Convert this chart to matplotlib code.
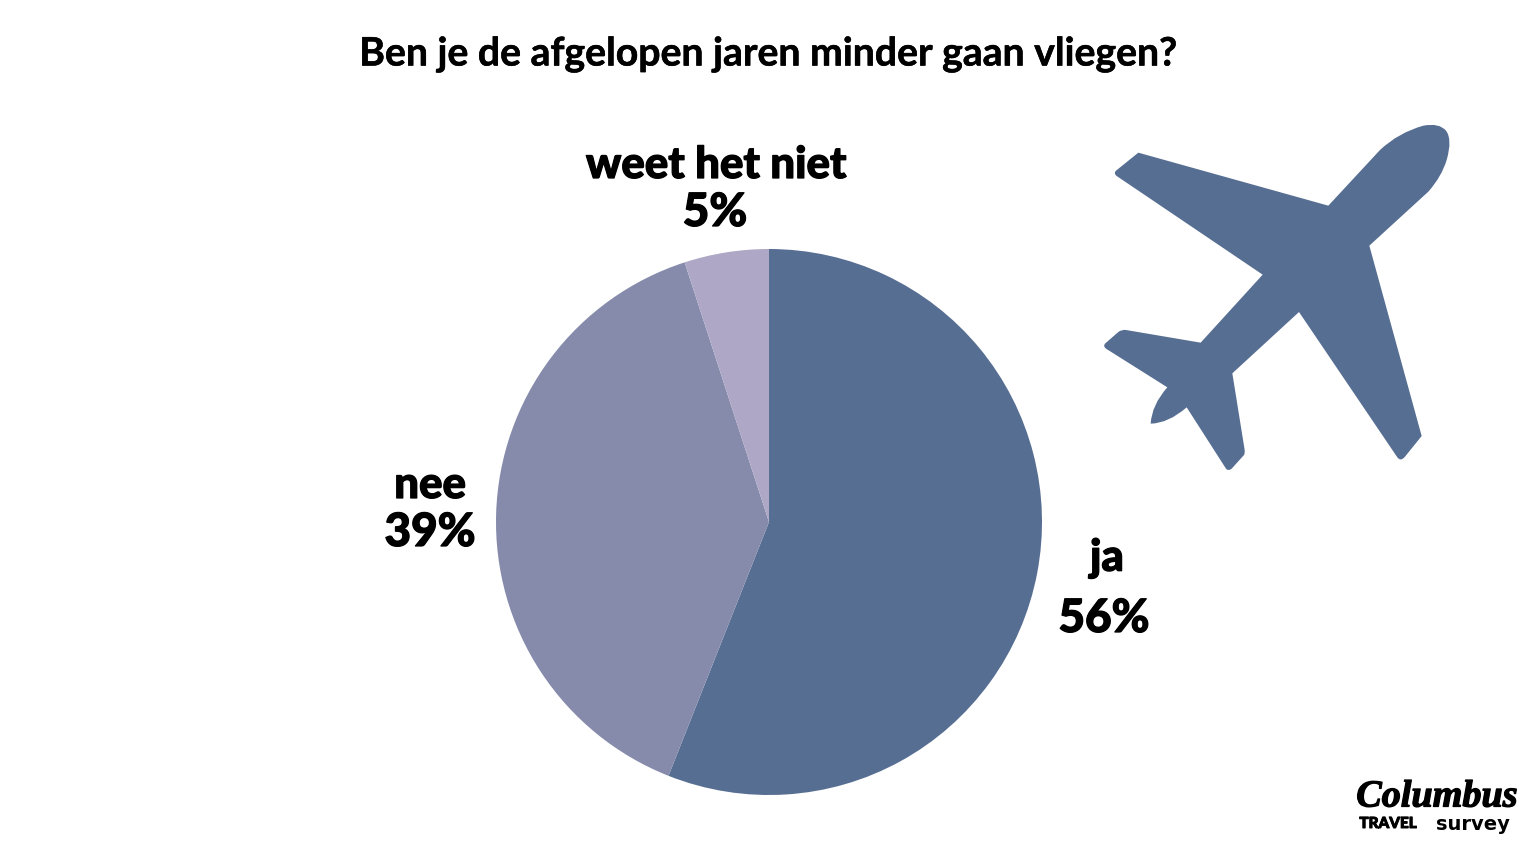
#!/usr/bin/env python3
import matplotlib
matplotlib.use('Agg')
import matplotlib.pyplot as plt
import matplotlib.patheffects as pe
from matplotlib.patches import PathPatch
from matplotlib.path import Path

# Survey results
answers = ['ja', 'nee', 'weet het niet']
percentages = [56, 39, 5]
slice_colors = ['#576e93', '#868bac', '#aea8c6']

title = 'Ben je de afgelopen jaren minder gaan vliegen?'
W, H = 1536, 864

plt.rcParams['font.family'] = ['Lato', 'DejaVu Sans']

fig = plt.figure(figsize=(W / 100, H / 100), dpi=100, facecolor='white')

# Pie, placed on its pixel box
cx, cy, r = 769, 522, 273
ax = fig.add_axes([(cx - r) / W, 1 - (cy + r) / H, 2 * r / W, 2 * r / H])
ax.pie(percentages, colors=slice_colors, startangle=90, counterclock=False, radius=1)
ax.set_xlim(-1, 1)
ax.set_ylim(-1, 1)

# Overlay in image pixels for texts and the plane
ov = fig.add_axes([0, 0, 1, 1], zorder=5)
ov.set_xlim(0, W)
ov.set_ylim(H, 0)
ov.axis('off')


def heavy(width):
    # thickens the bold faces a bit, the reference font is heavier
    return [pe.withStroke(linewidth=width, foreground='black')]


ov.text(768, 54, title, fontsize=28.2, fontweight='bold', ha='center', va='center', color='black',
        path_effects=heavy(0.4))

label_pos = {'ja': [(1107, 558), (1104, 619)],
             'nee': [(430, 485), (430, 533)],
             'weet het niet': [(716, 165), (715, 213)]}
for name, pct in zip(answers, percentages):
    (x1, y1), (x2, y2) = label_pos[name]
    ov.text(x1, y1, name, fontsize=31.5, fontweight='black', ha='center', va='center', color='black',
            path_effects=heavy(0.9))
    ov.text(x2, y2, f'{pct}%', fontsize=33, fontweight='black', ha='center', va='center', color='black',
            path_effects=heavy(0.9))

# Plane outline, traced from the 3x zoom
M, L, C = Path.MOVETO, Path.LINETO, Path.CURVE3
plane = [
    (M, 715, 287), (L, 870, 120), (C, 925, 68), (C, 1000, 47), (C, 1048, 38), (C, 1068, 62),
    (C, 1088, 88), (C, 1070, 150), (C, 1055, 200), (C, 1015, 245), (L, 838, 407), (L, 995, 978),
    (L, 945, 1040), (C, 932, 1056), (C, 922, 1042), (L, 627, 606), (L, 427, 790), (L, 464, 1020),
    (C, 465, 1030), (C, 462, 1035), (L, 425, 1076), (C, 415, 1084), (C, 408, 1076), (L, 290, 892),
    (C, 235, 940), (C, 182, 941), (C, 185, 885), (C, 232, 832), (L, 48, 716), (C, 38, 708),
    (C, 46, 700), (L, 85, 666), (C, 95, 658), (C, 108, 660), (L, 332, 698), (L, 518, 494),
    (L, 80, 198), (C, 70, 190), (C, 78, 182), (L, 145, 128), (L, 715, 287),
]
codes = [p[0] for p in plane]
verts = [(1090 + p[1] / 3, 110 + p[2] / 3) for p in plane]
ov.add_patch(PathPatch(Path(verts, codes), facecolor='#576e93', edgecolor='none'))

# Logo
ov.text(1437, 797, 'Columbus', family=['Liberation Serif'], style='italic', fontweight='bold',
        fontsize=27.5, ha='center', va='center', color='black', path_effects=heavy(0.9))
ov.text(1388, 824, 'TRAVEL', fontsize=11, fontweight='black', ha='center', va='center', color='black',
        path_effects=heavy(0.7))
ov.text(1473, 824, 'survey', family=['DejaVu Sans'], fontsize=14, fontweight='bold',
        ha='center', va='center', color='black')

fig.savefig('out.png', dpi=100, facecolor='white')
